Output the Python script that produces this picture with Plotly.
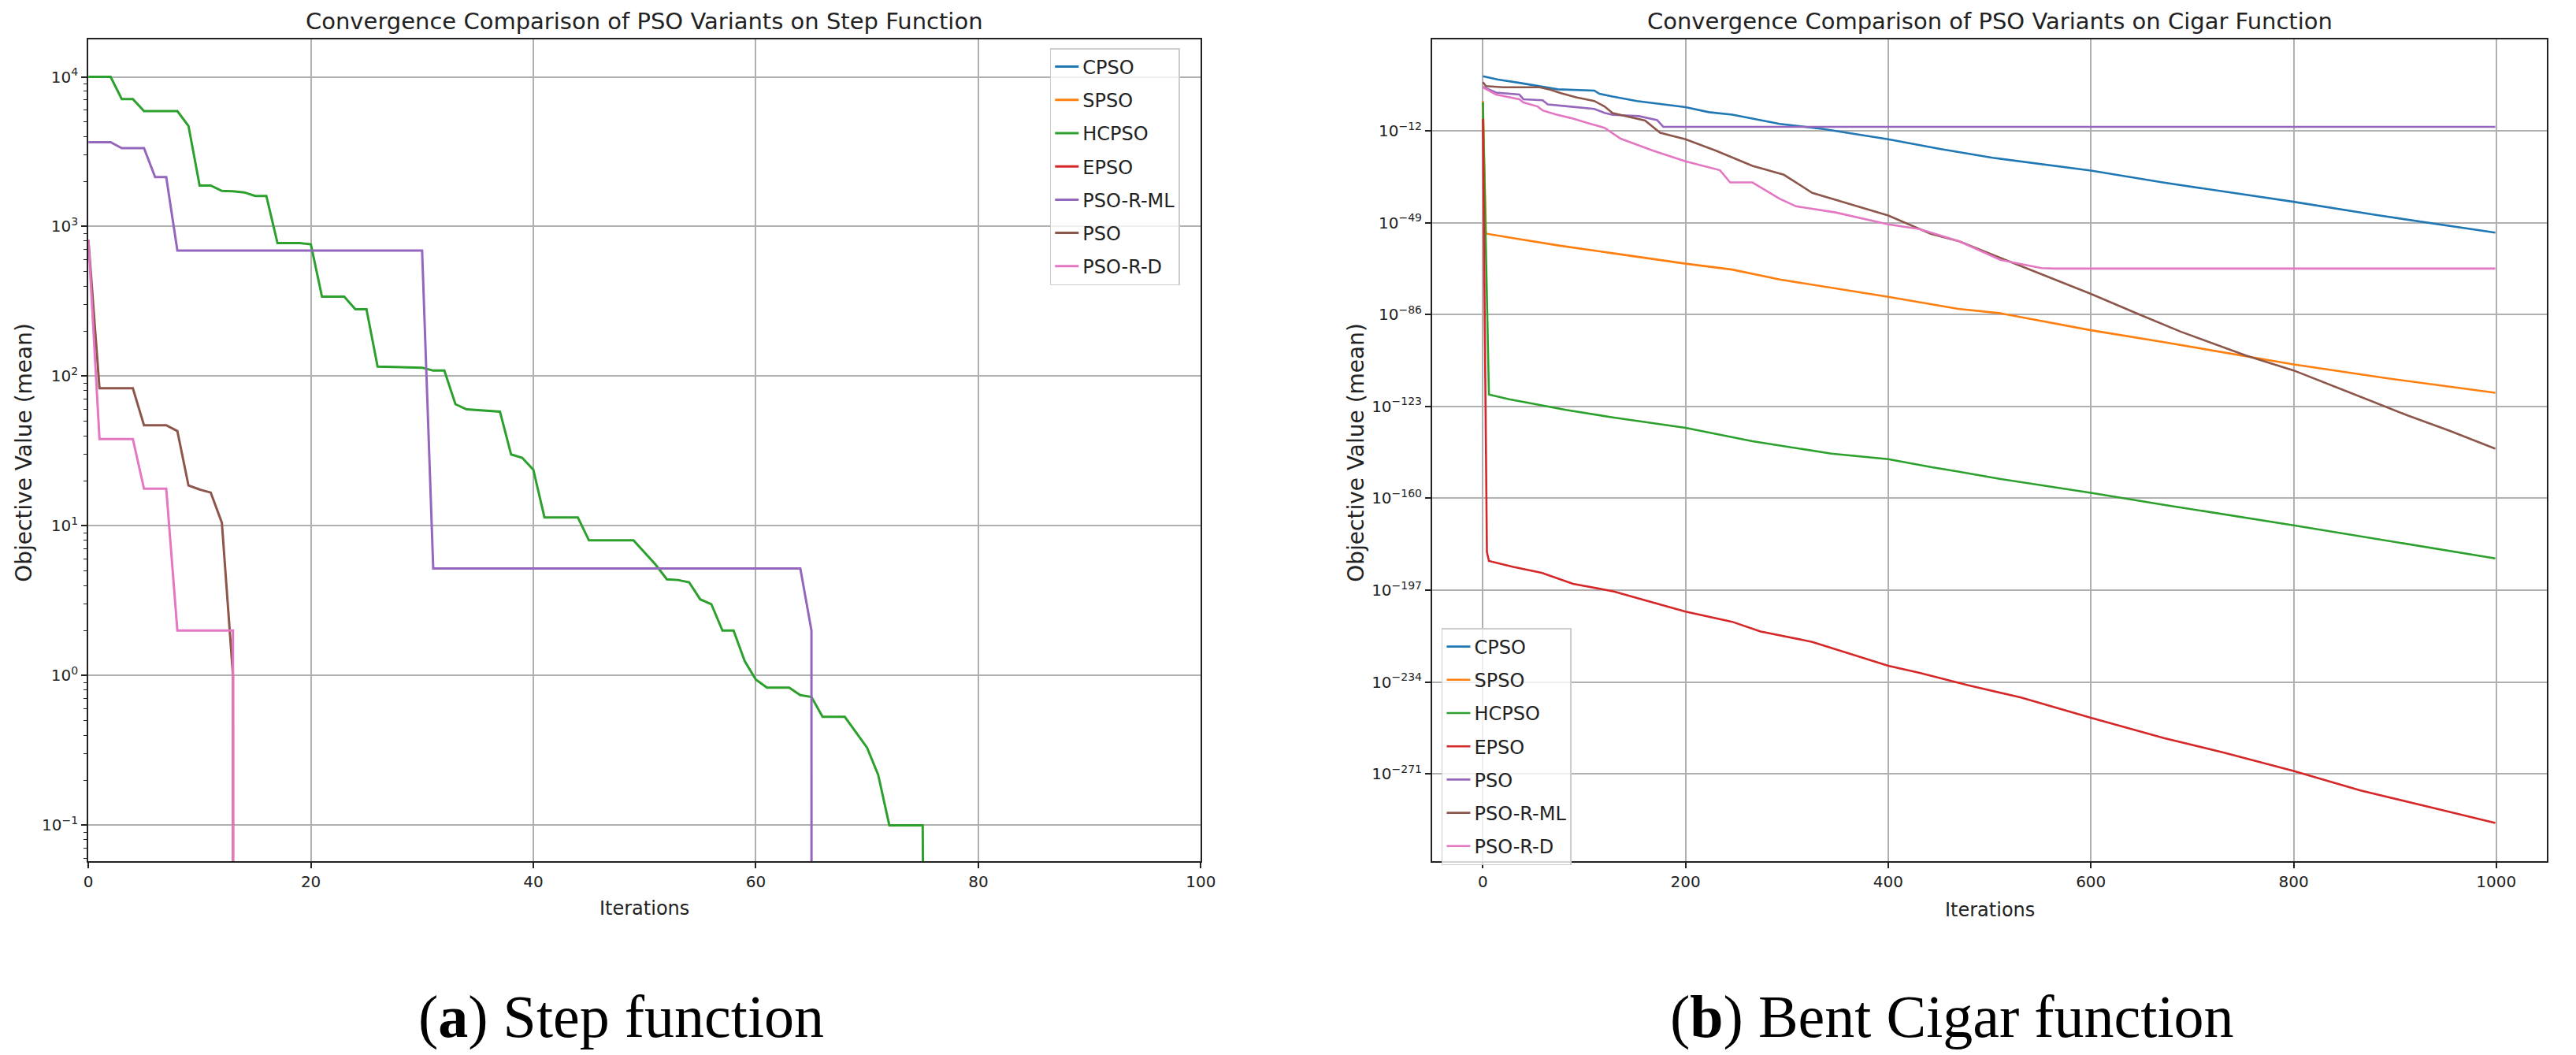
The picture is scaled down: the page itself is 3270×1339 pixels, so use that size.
import plotly.graph_objects as go

W, H = 3270, 1339

# matplotlib tab10 colours, in legend order
colors = ["#1f77b4", "#ff7f0e", "#2ca02c", "#d62728", "#9467bd", "#8c564b", "#e377c2"]

# ---- (a) Step function, 100 iterations -------------------------------------
step_names = ["CPSO", "SPSO", "HCPSO", "EPSO", "PSO-R-ML", "PSO", "PSO-R-D"]

step_cpso_x = [0, 100]
step_cpso_y = [0, 0]
step_spso_x = [0, 100]
step_spso_y = [0, 0]
step_epso_x = [0, 100]
step_epso_y = [0, 0]

step_hcpso_x = [0, 2, 3, 4, 5, 8, 9, 10, 11, 12, 13, 14, 15, 16, 17, 19, 20, 21, 23, 24,
                25, 26, 30, 31, 32, 33, 34, 35, 36, 37, 38, 39, 40, 41, 44, 45, 49, 50, 51, 52,
                53, 54, 55, 56, 57, 58, 59, 60, 61, 63, 64, 65, 66, 68, 69, 70, 71, 72, 75, 76, 100]
step_hcpso_y = [10000, 10000, 7100, 7100, 5900, 5900, 4700, 1880, 1880, 1730, 1720, 1690, 1600,
                1600, 775, 775, 760, 340, 340, 280, 280, 116, 114, 109, 109, 65, 60, 59.5, 59, 58,
                30, 28.5, 23.7, 11.4, 11.4, 8.0, 8.0, 6.6, 5.5, 4.4, 4.35, 4.2, 3.23, 3.0, 2.0,
                2.0, 1.25, 0.94, 0.83, 0.83, 0.74, 0.72, 0.53, 0.53, 0.42, 0.33, 0.217, 0.1, 0.1,
                0, 0]

step_psorml_x = [0, 2, 3, 5, 6, 7, 8, 30, 31, 64, 65, 66, 100]
step_psorml_y = [3660, 3660, 3340, 3340, 2140, 2140, 690, 690, 5.2, 5.2, 2.0, 0, 0]

step_pso_x = [0, 1, 4, 5, 7, 8, 9, 10, 11, 12, 13, 14, 100]
step_pso_y = [815, 83, 83, 47, 47, 43, 18.6, 17.5, 16.7, 10.5, 1.0, 0, 0]

step_psord_x = [0, 1, 4, 5, 7, 8, 13, 14, 100]
step_psord_y = [815, 38, 38, 17.7, 17.7, 2.0, 2.0, 0, 0]

step_x = [step_cpso_x, step_spso_x, step_hcpso_x, step_epso_x, step_psorml_x, step_pso_x, step_psord_x]
step_y = [step_cpso_y, step_spso_y, step_hcpso_y, step_epso_y, step_psorml_y, step_pso_y, step_psord_y]

# ---- (b) Bent Cigar function, 1000 iterations ------------------------------
cigar_names = ["CPSO", "SPSO", "HCPSO", "EPSO", "PSO", "PSO-R-ML", "PSO-R-D"]

cigar_cpso_x = [0, 15, 36, 58, 67, 74, 110, 115, 128, 152, 200, 223, 246, 293, 336, 400, 451,
                503, 600, 672, 800, 881, 999]
cigar_cpso_y = [1e10, 4e8, 2e7, 5e5, 1.6e5, 5e4, 1.6e4, 8e2, 63, 1.0, 3.2e-3, 3.2e-5, 3.2e-6,
                6.3e-10, 5e-12, 4e-16, 5e-20, 1.3e-23, 1e-28, 1.3e-33, 2.5e-41, 1.3e-46, 1e-53]

cigar_spso_x = [0, 3, 30, 75, 128, 200, 246, 293, 400, 469, 511, 600, 672, 800, 893, 999]
cigar_spso_y = [1.0, 4e-54, 6.3e-56, 6.3e-59, 5e-62, 3.2e-66, 1.3e-68, 1.3e-72, 1.3e-79, 2e-84,
                3.2e-86, 5e-93, 8e-98, 8e-107, 2e-112, 3.2e-118]

cigar_hcpso_x = [0, 6, 26, 82, 128, 200, 266, 344, 400, 442, 469, 511, 600, 672, 800, 893, 999]
cigar_hcpso_y = [0.32, 6.3e-119, 8e-121, 4e-125, 4e-128, 2.5e-132, 1e-137, 1e-142, 6.3e-145,
                 4e-148, 6.3e-150, 6.3e-153, 1.6e-158, 2.5e-163, 1.3e-171, 6.3e-178, 6.3e-185]

cigar_epso_x = [0, 4, 6, 30, 58, 89, 128, 200, 246, 274, 325, 400, 431, 479, 531, 600, 672,
                732, 800, 866, 934, 999]
cigar_epso_y = [6.3e-8, 2.5e-182, 6.3e-186, 2.5e-188, 1e-190, 4e-195, 4e-198, 2.5e-206, 2e-210,
                2.5e-214, 1.6e-218, 4e-228, 5e-231, 5e-236, 6.3e-241, 4e-249, 3.2e-257,
                3.2e-263, 1.6e-270, 2.5e-278, 5e-285, 2e-291]

cigar_pso_x = [0, 13, 36, 40, 59, 64, 85, 110, 120, 128, 154, 172, 178, 999]
cigar_pso_y = [5e5, 2.5e3, 4e2, 5.0, 2.0, 4e-2, 6.3e-3, 6.3e-4, 1.6e-5, 2.5e-6, 8e-7, 2e-8,
               4e-11, 4e-11]

cigar_psorml_x = [0, 3, 20, 56, 67, 77, 92, 110, 120, 128, 160, 175, 200, 230, 266, 297, 325,
                  364, 400, 442, 470, 511, 551, 600, 648, 688, 753, 800, 853, 913, 954, 999]
cigar_psorml_y = [4e7, 1e6, 3.2e5, 3.2e5, 3.2e4, 1.3e3, 32, 1.0, 6.3e-3, 1.3e-5, 1.3e-8,
                  1.6e-13, 4e-16, 1e-20, 8e-27, 2e-30, 1e-37, 1.6e-42, 8e-47, 3.2e-54, 3.2e-57,
                  6.3e-64, 2e-70, 2e-78, 1e-86, 1.6e-93, 3.2e-103, 3.2e-109, 1e-117, 2e-127,
                  1.6e-133, 1e-140]

cigar_psord_x = [0, 13, 36, 40, 54, 59, 72, 87, 105, 120, 136, 168, 200, 234, 244, 266, 293,
                 309, 348, 400, 431, 470, 511, 551, 564, 999]
cigar_psord_y = [3.2e5, 4e2, 5.0, 0.25, 6.3e-3, 1.6e-4, 4e-6, 1.3e-7, 8e-10, 1.6e-11, 6.3e-16,
                 1e-20, 5e-25, 1.3e-28, 1.6e-33, 1.6e-33, 4e-40, 4e-43, 1.3e-45, 2e-50, 2.5e-52,
                 3.2e-57, 1e-64, 5e-68, 3.2e-68, 3.2e-68]

cigar_x = [cigar_cpso_x, cigar_spso_x, cigar_hcpso_x, cigar_epso_x, cigar_pso_x, cigar_psorml_x, cigar_psord_x]
cigar_y = [cigar_cpso_y, cigar_spso_y, cigar_hcpso_y, cigar_epso_y, cigar_pso_y, cigar_psorml_y, cigar_psord_y]

step_yticks = [1e-1, 1e0, 1e1, 1e2, 1e3, 1e4]
step_yticktext = ["10<sup>−1</sup>", "10<sup>0</sup>", "10<sup>1</sup>", "10<sup>2</sup>",
                  "10<sup>3</sup>", "10<sup>4</sup>"]
cigar_yticks = [1e-12, 1e-49, 1e-86, 1e-123, 1e-160, 1e-197, 1e-234, 1e-271]
cigar_yticktext = ["10<sup>−12</sup>", "10<sup>−49</sup>", "10<sup>−86</sup>", "10<sup>−123</sup>",
                   "10<sup>−160</sup>", "10<sup>−197</sup>", "10<sup>−234</sup>", "10<sup>−271</sup>"]


def clip_log(vals):
    # like matplotlib's log scale: zeros get clipped to a tiny positive number
    return [v if v > 0 else 1e-300 for v in vals]


def px_x(p):
    return p / W


def px_y(p):
    return 1 - p / H


FONT = "DejaVu Sans"
fig = go.Figure()

for i, name in enumerate(step_names):
    fig.add_trace(go.Scatter(
        x=step_x[i], y=clip_log(step_y[i]), mode="lines", name=name,
        line=dict(color=colors[i], width=3), xaxis="x", yaxis="y",
        legend="legend", legendgroup="a" + name))

for i, name in enumerate(cigar_names):
    fig.add_trace(go.Scatter(
        x=cigar_x[i], y=cigar_y[i], mode="lines", name=name,
        line=dict(color=colors[i], width=2.6), xaxis="x2", yaxis="y2",
        legend="legend2", legendgroup="b" + name))

axis_common = dict(
    showline=True, mirror=True, linecolor="#222222", linewidth=2,
    showgrid=True, gridcolor="#b0b0b0", gridwidth=1.5,
    ticks="outside", ticklen=7, tickwidth=1.5, tickcolor="#222222",
    tickfont=dict(family=FONT, size=20, color="#222222"),
    zeroline=False,
)

dom_y = [px_y(1093), px_y(50)]
legend_common = dict(xanchor="left", yanchor="top", bgcolor="rgba(255,255,255,0.8)",
                     bordercolor="#cccccc", borderwidth=1.5,
                     font=dict(family=FONT, size=24, color="#222222"), tracegroupgap=8)

fig.update_layout(
    width=W, height=H, autosize=False,
    margin=dict(l=0, r=0, t=0, b=0),
    paper_bgcolor="white", plot_bgcolor="white",
    font=dict(family=FONT, color="#222222"),
    showlegend=True,
    xaxis=dict(axis_common, domain=[px_x(107), px_x(1530)], range=[0, 100],
               tickvals=[0, 20, 40, 60, 80, 100], anchor="y"),
    yaxis=dict(axis_common, domain=dom_y, type="log", range=[-1.24, 4.25],
               tickvals=step_yticks, ticktext=step_yticktext, anchor="x",
               minor=dict(ticks="outside", ticklen=4, tickwidth=1, tickcolor="#222222",
                          dtick="D1", showgrid=False)),
    xaxis2=dict(axis_common, domain=[px_x(1826), px_x(3252)], range=[-50, 1050],
                tickvals=[0, 200, 400, 600, 800, 1000], anchor="y2"),
    yaxis2=dict(axis_common, domain=dom_y, type="log", range=[-306.1, 24.8],
                tickvals=cigar_yticks, ticktext=cigar_yticktext, anchor="x2"),
    legend=dict(legend_common, x=px_x(1337), y=px_y(61)),
    legend2=dict(legend_common, x=px_x(1838), y=px_y(797)),
)

annotations = [
    dict(text="Convergence Comparison of PSO Variants on Step Function", x=px_x(818), y=px_y(27),
         font=dict(size=29)),
    dict(text="Convergence Comparison of PSO Variants on Cigar Function", x=px_x(2539), y=px_y(27),
         font=dict(size=29)),
    dict(text="Iterations", x=px_x(818), y=px_y(1153), font=dict(size=24)),
    dict(text="Iterations", x=px_x(2539), y=px_y(1155), font=dict(size=24)),
    dict(text="Objective Value (mean)", x=px_x(24), y=px_y(574), textangle=-90, font=dict(size=28)),
    dict(text="Objective Value (mean)", x=px_x(1728), y=px_y(574), textangle=-90, font=dict(size=28)),
    dict(text="(<b>a</b>) Step function", x=px_x(789), y=px_y(1290),
         font=dict(family="Liberation Serif", size=76, color="black")),
    dict(text="(<b>b</b>) Bent Cigar function", x=px_x(2491), y=px_y(1290),
         font=dict(family="Liberation Serif", size=76, color="black")),
]
for a in annotations:
    a.update(xref="paper", yref="paper", showarrow=False, xanchor="center", yanchor="middle")
    a["font"].setdefault("family", FONT)
    a["font"].setdefault("color", "#222222")
fig.update_layout(annotations=annotations)

fig.write_html("out.html", config={"displayModeBar": False},
               post_script="document.body.style.margin='0';document.body.style.overflow='hidden';")
